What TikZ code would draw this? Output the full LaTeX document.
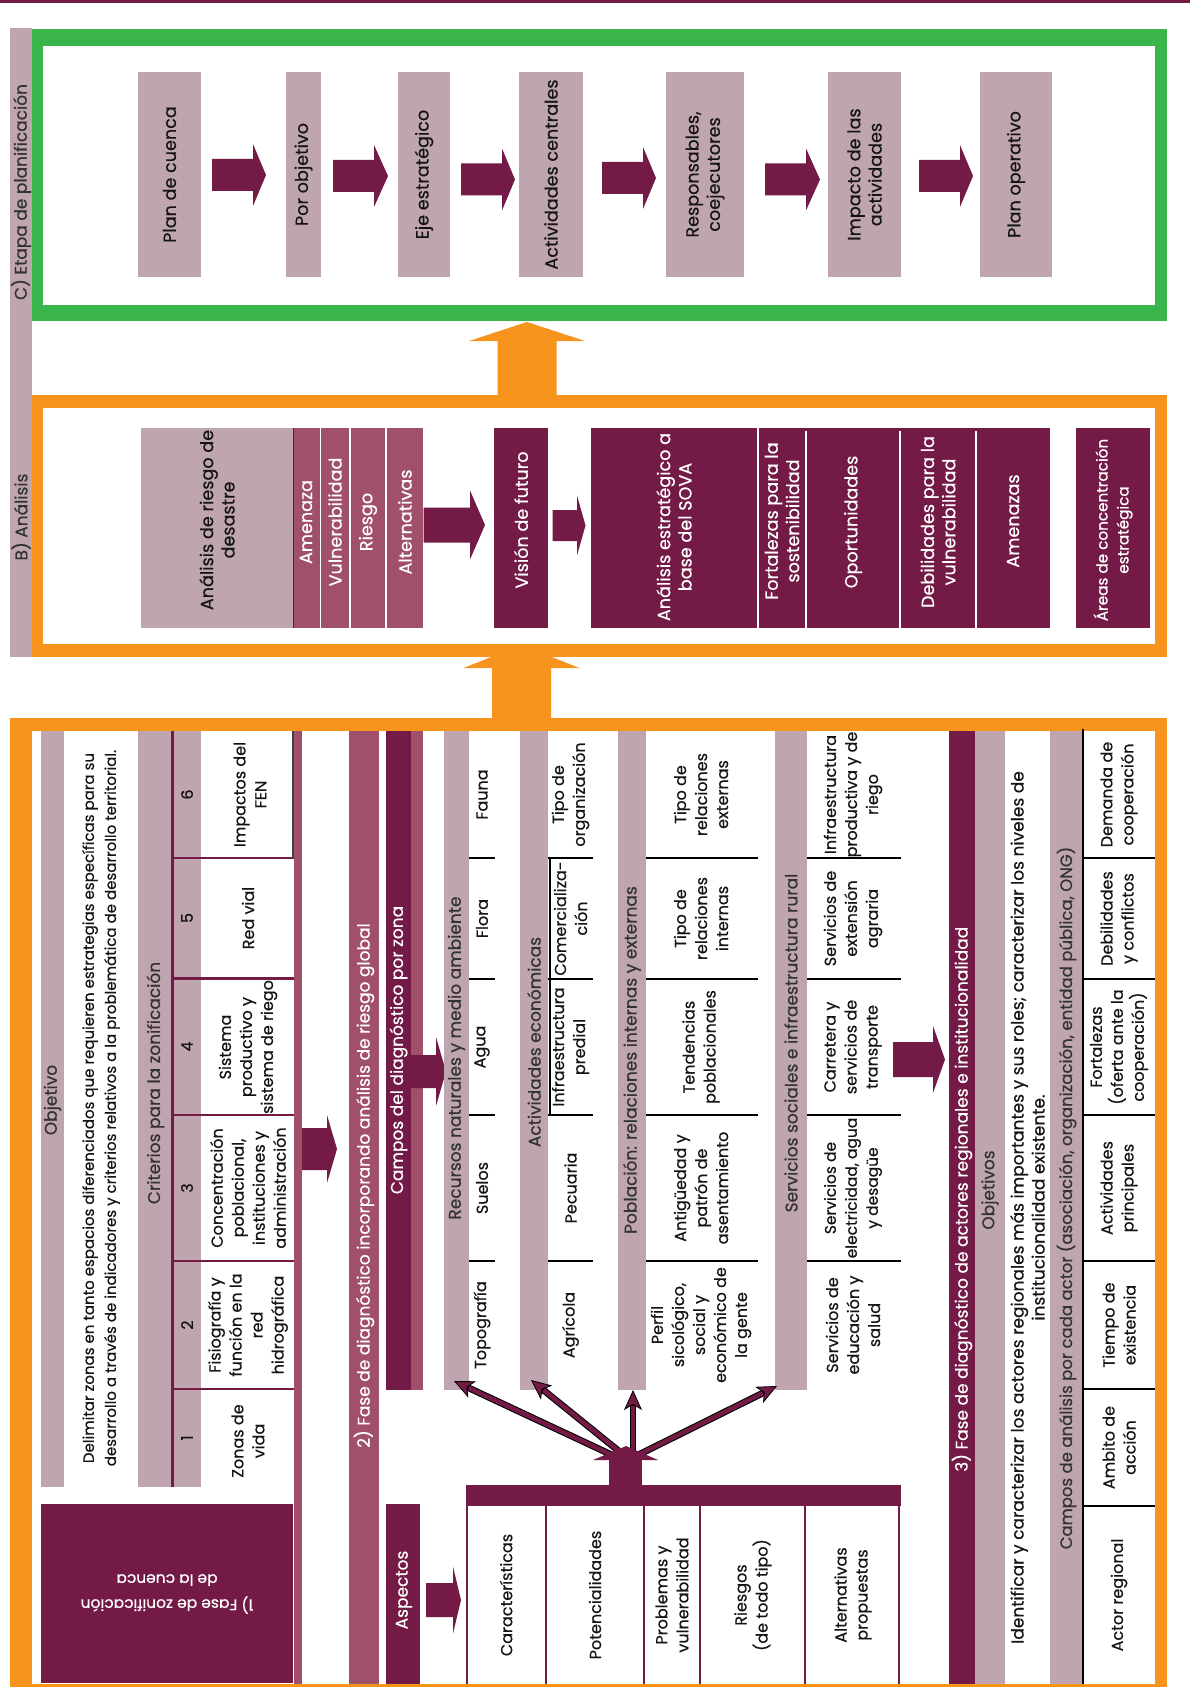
\documentclass[tikz,border=0pt]{standalone}
\usepackage{fontspec}
\setmainfont{Poppins}[FakeBold=0.45]
\usetikzlibrary{fit,arrows.meta,calc}

\definecolor{cMaroon}{RGB}{115,27,70}
\definecolor{cMauve}{RGB}{190,165,175}
\definecolor{cRose}{RGB}{161,80,105}
\definecolor{cOrange}{RGB}{247,148,30}
\definecolor{cGreen}{RGB}{58,181,74}
\definecolor{cInk}{RGB}{20,20,20}
\definecolor{cGrey}{RGB}{50,50,50}

\newcommand\fsBig{\fontsize{12.75pt}{15.75pt}\selectfont}
\newcommand\fsTop{\fontsize{13.2pt}{16pt}\selectfont}
\newcommand\fsCell{\fontsize{12pt}{15.75pt}\selectfont}
\newcommand\fsObj{\fontsize{11.25pt}{16.5pt}\selectfont}
\newcommand\fsFase{\fontsize{11.6pt}{18.75pt}\selectfont}

% block arrow pointing right: x0, head base x, tip x, centre y, shaft half, head half, colour
\newcommand\blockR[7]{\fill[#7] (#1,#4-#5) -- (#2,#4-#5) -- (#2,#4-#6) -- (#3,#4)
  -- (#2,#4+#6) -- (#2,#4+#5) -- (#1,#4+#5) -- cycle;}
% block arrow pointing up: centre x, y0, head base y, tip y, shaft half, head half, colour
\newcommand\blockU[7]{\fill[#7] (#1-#5,#2) -- (#1-#5,#3) -- (#1-#6,#3) -- (#1,#4)
  -- (#1+#6,#3) -- (#1+#5,#3) -- (#1+#5,#2) -- cycle;}

\begin{document}
\begin{tikzpicture}[x=0.75pt,y=-0.75pt,
  blk/.style={inner sep=0pt,outer sep=0pt,fill=#1},
  txt/.style={rotate=90,align=center,inner sep=0pt,text=cInk,font=\fsBig},
  ttxt/.style={txt,font=\fsTop},
  wttxt/.style={ttxt,text=white},
  wtxt/.style={txt,text=white},
  htxt/.style={txt,text=cGrey},
  ctxt/.style={txt,font=\fsCell},
  divline/.style={draw=black,line width=1.9pt},
  mline/.style={draw=cMaroon,line width=1.9pt},
  sepline/.style={draw=white,line width=1.6pt},
  thinout/.style={draw=black,line width=5pt,
    -{Stealth[length=15pt,width=13.5pt,inset=4pt,fill=cMaroon,line width=0.6pt]}},
  thinin/.style={draw=cMaroon,line width=3.4pt,shorten >=12pt}]

\useasboundingbox (0,0) rectangle (1190,1708);
\fill[white] (0,0) rectangle (1190,1708);
\fill[cMaroon] (0,0) rectangle (1190,3);

% ---------- side label bar ----------
\node[blk=cMauve,fit={(10,28) (32,657)}] (sidebar) {};
\node[htxt] (labC) at (21,192) {C) Etapa de planificación};
\node[htxt] (labB) at (21,517) {B) Análisis};

% ---------- C) planning stage ----------
\fill[cGreen] (32,29) rectangle (1167,321);
\fill[white] (43,46) rectangle (1155,305);

\node[blk=cMauve,fit={(138,72) (201,277)}] (p1) {};
\node[ttxt] (p1t) at (p1) {Plan de cuenca};
\node[blk=cMauve,fit={(286,72) (321,277)}] (p2) {};
\node[ttxt] (p2t) at (p2) {Por objetivo};
\node[blk=cMauve,fit={(398,72) (450,277)}] (p3) {};
\node[ttxt] (p3t) at (p3) {Eje estratégico};
\node[blk=cMauve,fit={(519,72) (583,277)}] (p4) {};
\node[ttxt] (p4t) at (p4) {Actividades centrales};
\node[blk=cMauve,fit={(666,72) (744,277)}] (p5) {};
\node[ttxt] (p5t) at (p5) {Responsables,\\coejecutores};
\node[blk=cMauve,fit={(828,72) (901,277)}] (p6) {};
\node[ttxt] (p6t) at (p6) {Impacto de las\\actividades};
\node[blk=cMauve,fit={(980,72) (1052,277)}] (p7) {};
\node[ttxt] (p7t) at (p7) {Plan operativo};

\blockR{212}{253}{266}{175}{16}{31}{cMaroon}
\blockR{333}{374}{388}{176}{16}{31}{cMaroon}
\blockR{461}{502}{515}{179.5}{16}{31}{cMaroon}
\blockR{602}{643}{656}{178}{16}{31}{cMaroon}
\blockR{765}{806}{820}{179.5}{16}{31}{cMaroon}
\blockR{919}{960}{973}{176}{16}{31}{cMaroon}

% ---------- B) analysis ----------
\blockU{521.5}{722}{668}{645}{29.5}{58}{cOrange}
\fill[cOrange] (32,395) rectangle (1167,657);
\fill[white] (43,408) rectangle (1155,644);
\blockU{527}{400}{341}{322}{29.5}{58}{cOrange}

\node[blk=cMauve,fit={(141,428) (293,628)}] (ard) {};
\node[ttxt] (ardt) at (217,520) {Análisis de riesgo de\\desastre};
\node[blk=cRose,fit={(293,428) (319.5,628)}] (amz) {};
\node[wttxt] (amzt) at (306,522) {Amenaza};
\node[blk=cRose,fit={(321,428) (348.5,628)}] (vul) {};
\node[wttxt] (vult) at (335,522) {Vulnerabilidad};
\node[blk=cRose,fit={(351,428) (385,628)}] (rsg) {};
\node[wttxt] (rsgt) at (368,522) {Riesgo};
\node[blk=cRose,fit={(387,428) (422.5,628)}] (alt) {};
\node[wttxt] (altt) at (405,522) {Alternativas};
\draw[black!80,line width=0.6pt] (amz.north west) -- (amz.south west);

\blockR{423.6}{470}{485}{525}{17.5}{34.5}{cMaroon}
\node[blk=cMaroon,fit={(494,428) (548,628)}] (vis) {};
\node[wttxt] (vist) at (521,520) {Visión de futuro};
\blockR{552.6}{577}{585.5}{525.5}{15.5}{30}{cMaroon}

\node[blk=cMaroon,fit={(591,428) (1050,628)}] (sova) {};
\draw[sepline] (757.8,428) -- (757.8,628);
\draw[sepline] (806,431) -- (806,628);
\draw[sepline] (900,431) -- (900,628);
\draw[sepline] (975.8,431) -- (975.8,628);
\node[wttxt] (sovat) at (674,527) {Análisis estratégico a\\base del SOVA};
\node[wttxt] (fort) at (782,521) {Fortalezas para la\\sostenibilidad};
\node[wttxt] (opor) at (853,522) {Oportunidades};
\node[wttxt] (debi) at (938,522) {Debilidades para la\\vulnerabilidad};
\node[wttxt] (amn2) at (1013,521) {Amenazas};
\node[blk=cMaroon,fit={(1076,428) (1149.5,628)}] (area) {};
\node[wtxt,font=\fontsize{11.4pt}{15.75pt}\selectfont] (areat) at (1113,530) {Áreas de concentración\\estratégica};

% ---------- A) diagnostic phases ----------
\fill[cOrange] (10,718) rectangle (1167,1687);
\fill[white] (32,731) rectangle (1155,1684);

% 1) zoning phase
\node[blk=cMauve,fit={(41,731) (64,1487)}] (objA) {};
\node[htxt] (objAt) at (52.5,1100) {Objetivo};
\node[txt,font=\fsObj] (delim) at (101,1108) {Delimitar zonas en tanto espacios diferenciados que requieren estrategias específicas para su\\desarrollo a través de indicadores y criterios relativos a la problemática de desarrollo territorial.};
\node[blk=cMauve,fit={(138,731) (201,1487)}] (crit) {};
\node[htxt] (critt) at (155.5,1083) {Criterios para la zonificación};
\draw[mline] (172.5,731) -- (172.5,1487);
\foreach \yy in {858,978.5,1115,1261,1389} \draw[mline] (172,\yy) -- (294,\yy);
\draw[black!75,line width=0.8pt] (293,731) -- (293,858);
\node[ctxt] (n1) at (187,1438) {1};
\node[ctxt] (n2) at (187,1325) {2};
\node[ctxt] (n3) at (187,1188) {3};
\node[ctxt] (n4) at (187,1046.5) {4};
\node[ctxt] (n5) at (187,918) {5};
\node[ctxt] (n6) at (187,794.5) {6};
\node[ctxt] (k1) at (248,1441) {Zonas de\\vida};
\node[ctxt] (k2) at (248,1325) {Fisiografía y\\función en la\\red\\hidrográfica};
\node[ctxt] (k3) at (248,1188) {Concentración\\poblacional,\\instituciones y\\administración};
\node[ctxt] (k4) at (248,1047) {Sistema\\productivo y\\sistema de riego};
\node[ctxt] (k5) at (248,918) {Red vial};
\node[ctxt] (k6) at (250,794.5) {Impactos del\\FEN};
\node[blk=cRose,fit={(293.5,731) (302,1684)}] (roseA) {};
\node[blk=cMaroon,fit={(41,1504) (293,1683)}] (fase1) {};
\node[txt,rotate=90,text=white,font=\fsFase] (fase1t) at (167,1594) {1) Fase de zonificación\\de la cuenca};
\blockR{302}{327}{337}{1149}{21}{34}{cMaroon}

% 2) diagnostic phase with global risk analysis
\node[blk=cRose,fit={(349,731) (379,1684)}] (fase2) {};
\node[wtxt,anchor=west] (fase2t) at (364,1448) {2) Fase de diagnóstico incorporando análisis de riesgo global};
\node[blk=cMaroon,fit={(386,731) (411,1390)}] (campos) {};
\node[blk=cRose,fit={(411,731) (423,1390)}] (camposb) {};
\node[wtxt] (campost) at (398.5,1050) {Campos del diagnóstico por zona};
\blockR{411}{436}{446}{1071.5}{16.5}{34.5}{cMaroon}
\node[blk=cMaroon,fit={(386,1504) (420,1684)}] (asp) {};
\node[wtxt] (aspt) at (404,1590) {Aspectos};
\blockR{426}{453}{461}{1600}{17}{33.5}{cMaroon}

\node[blk=cMauve,fit={(444,731) (469,1390)}] (rec) {};
\node[htxt] (rect) at (456.5,1058) {Recursos naturales y medio ambiente};
\node[blk=cMauve,fit={(520,731) (548,1390)}] (act) {};
\node[htxt] (actt) at (534,1042) {Actividades económicas};
\node[blk=cMauve,fit={(618,731) (646,1390)}] (pob) {};
\node[htxt] (pobt) at (632,1060) {Población: relaciones internas y externas};
\node[blk=cMauve,fit={(775,731) (807,1390)}] (ser) {};
\node[htxt] (sert) at (791,1043) {Servicios sociales e infraestructura rural};

\foreach \yy in {858,979,1115,1261} {
  \draw[divline] (469,\yy) -- (495,\yy);
  \draw[divline] (548,\yy) -- (593,\yy);
  \draw[divline] (646,\yy) -- (758,\yy);
  \draw[divline] (807,\yy) -- (901,\yy);
}
\draw[black,line width=1pt] (550,858) -- (550,1115);

\node[ctxt] (r1) at (482,1325) {Topografía};
\node[ctxt] (r2) at (482,1188) {Suelos};
\node[ctxt] (r3) at (482,1047) {Agua};
\node[ctxt] (r4) at (482,918.5) {Flora};
\node[ctxt] (r5) at (482,794.5) {Fauna};

\node[ctxt] (e1) at (570.5,1325) {Agrícola};
\node[ctxt] (e2) at (570.5,1188) {Pecuaria};
\node[ctxt] (e3) at (570.5,1047) {Infraestructura\\predial};
\node[ctxt] (e4) at (570.5,918.5) {Comercializa-\\ción};
\node[ctxt] (e5) at (570.5,794.5) {Tipo de\\organización};

\node[ctxt] (q1) at (701,1325) {Perfil\\sicológico,\\social y\\económico de\\la gente};
\node[ctxt] (q2) at (701,1188) {Antigüedad y\\patrón de\\asentamiento};
\node[ctxt] (q3) at (701,1047) {Tendencias\\poblacionales};
\node[ctxt] (q4) at (701,918.5) {Tipo de\\relaciones\\internas};
\node[ctxt] (q5) at (701,794.5) {Tipo de\\relaciones\\externas};

\node[ctxt] (s1) at (853,1325) {Servicios de\\educación y\\salud};
\node[ctxt,font=\fontsize{11.6pt}{15.75pt}\selectfont] (s2) at (853,1188) {Servicios de\\electricidad, agua\\y desagüe};
\node[ctxt] (s3) at (853,1047) {Carretera y\\servicios de\\transporte};
\node[ctxt] (s4) at (853,918.5) {Servicios de\\extensión\\agraria};
\node[ctxt] (s5) at (853,794.5) {Infraestructura\\productiva y de\\riego};

% aspects table
\coordinate (tipRec) at (454,1381);
\coordinate (tipAct) at (531,1380);
\coordinate (tipPob) at (633,1390);
\coordinate (tipSer) at (777,1386);
\coordinate (hubA) at (612,1455);
\coordinate (hubB) at (620,1452);
\coordinate (hubC) at (633,1452);
\coordinate (hubD) at (638,1455);
\foreach \h/\t in {hubA/tipRec,hubB/tipAct,hubC/tipPob,hubD/tipSer} {
  \draw[thinout] (\h) -- (\t);
  \draw[thinin] (\h) -- (\t);
}
\fill[cMaroon] (609,1459) rectangle (642,1486);
\fill[cMaroon] (593,1460) -- (626,1446) -- (658,1460) -- cycle;
\node[blk=cMaroon,fit={(466,1485) (901,1506)}] (aspband) {};
\foreach \xx in {467,546,644,700,805,899} \draw[mline] (\xx,1506) -- (\xx,1684);
\node[ctxt] (a1) at (506,1595) {Características};
\node[ctxt] (a2) at (595,1595) {Potencialidades};
\node[ctxt] (a3) at (672,1595) {Problemas y\\vulnerabilidad};
\node[ctxt] (a4) at (753,1595) {Riesgos\\(de todo tipo)};
\node[ctxt] (a5) at (853,1595) {Alternativas\\propuestas};

\blockR{893}{933}{945}{1059.5}{17.5}{33.5}{cMaroon}

% 3) regional actors phase
\node[blk=cMaroon,fit={(949,731) (975,1684)}] (fase3) {};
\node[wtxt,anchor=west] (fase3t) at (962,1472) {3) Fase de diagnóstico de actores regionales e institucionalidad};
\node[blk=cMauve,fit={(975,731) (1005,1684)}] (objB) {};
\node[htxt] (objBt) at (990,1190) {Objetivos};
\node[txt] (ident) at (1027.5,1207.5) {Identificar y caracterizar los actores regionales más importantes y sus roles; caracterizar los niveles de\\institucionalidad existente.};
\node[blk=cMauve,fit={(1050,731) (1083,1684)}] (campB) {};
\node[htxt,font=\fontsize{12.4pt}{15pt}\selectfont] (campBt) at (1066.5,1198) {Campos de análisis por cada actor (asociación, organización, entidad pública, ONG)};
\draw[black,line width=1.9pt] (1083,729) -- (1083,1684);
\foreach \yy in {858,979,1115,1261,1389,1506} \draw[divline] (1083,\yy) -- (1155,\yy);
\node[ctxt] (f1) at (1119,1595) {Actor regional};
\node[ctxt] (f2) at (1119,1447.5) {Ambito de\\acción};
\node[ctxt] (f3) at (1119,1325) {Tiempo de\\existencia};
\node[ctxt] (f4) at (1119,1188) {Actividades\\principales};
\node[ctxt] (f5) at (1119,1047) {Fortalezas\\(oferta ante la\\cooperación)};
\node[ctxt] (f6) at (1119,918.5) {Debilidades\\y conflictos};
\node[ctxt] (f7) at (1119,794.5) {Demanda de\\cooperación};

\end{tikzpicture}
\end{document}
